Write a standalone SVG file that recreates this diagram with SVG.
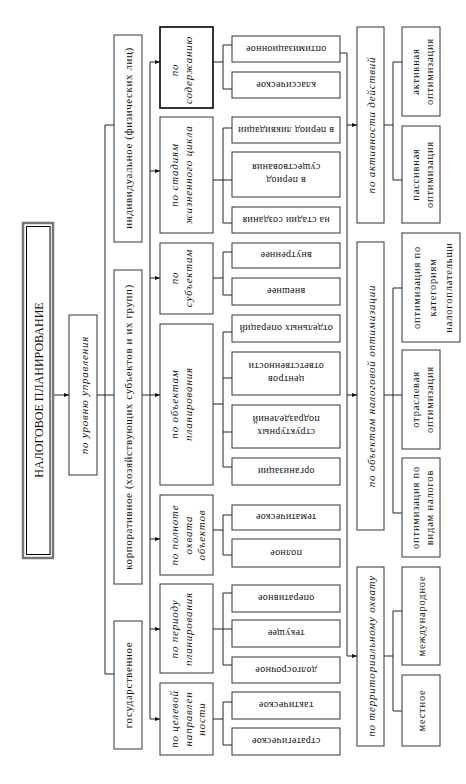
<svg xmlns="http://www.w3.org/2000/svg" width="466" height="784" viewBox="0 0 466 784">
<style>
.b{fill:#fff;stroke:#333;stroke-width:1}
.bb{fill:#fff;stroke:#000;stroke-width:1.6}
.c{fill:none;stroke:#222;stroke-width:1}
text{font-family:"Liberation Serif","DejaVu Serif",serif;fill:#111;text-anchor:middle;dominant-baseline:central}
.t0{font-size:12px}
.t1{font-size:11px;letter-spacing:0.6px}
.ti{font-size:11px;font-style:italic;letter-spacing:0.8px}
.tl{font-size:10px;letter-spacing:0.3px}
.t5{font-size:10.5px;letter-spacing:0.8px}
</style>
<defs>
<marker id="ar" markerWidth="5" markerHeight="4" refX="5" refY="2" orient="auto" markerUnits="userSpaceOnUse"><path d="M0,0 L5,2 L0,4 z" fill="#111"/></marker>
</defs>
<rect width="466" height="784" fill="#fff"/>
<g id="connectors">
<path class="c" d="M53,395 H69" marker-end="url(#ar)"/>
<path class="c" d="M97,395 H114 M105,125 V674 M105,125 H114 M105,674 H114"/>
<path class="c" d="M142,395 H150 M150,62 V719"/>
<path class="c" d="M150,62 H160" marker-end="url(#ar)"/>
<path class="c" d="M150,171 H160" marker-end="url(#ar)"/>
<path class="c" d="M150,278 H160" marker-end="url(#ar)"/>
<path class="c" d="M150,395 H160" marker-end="url(#ar)"/>
<path class="c" d="M150,539 H160" marker-end="url(#ar)"/>
<path class="c" d="M150,629 H160" marker-end="url(#ar)"/>
<path class="c" d="M150,719 H160" marker-end="url(#ar)"/>
<path class="c" d="M213,62 H223 M223,45 V89 M223,45 H232 M223,89 H232"/>
<path class="c" d="M213,180 H232 M223,128 V223 M223,128 H232 M223,223 H232"/>
<path class="c" d="M213,278 H223 M223,252 V295 M223,252 H232 M223,295 H232"/>
<path class="c" d="M213,404 H223 M223,332 V467 M223,332 H232 M223,378 H232 M223,432 H232 M223,467 H232"/>
<path class="c" d="M213,530 H223 M223,515 V555 M223,515 H232 M223,555 H232"/>
<path class="c" d="M213,629 H232 M223,593 V665 M223,593 H232 M223,665 H232"/>
<path class="c" d="M213,719 H223 M223,702 V745 M223,702 H232 M223,745 H232"/>
<path class="c" d="M340,53 H347 V656"/>
<path class="c" d="M347,125 H357" marker-end="url(#ar)"/>
<path class="c" d="M347,395 H357" marker-end="url(#ar)"/>
<path class="c" d="M347,656 H357" marker-end="url(#ar)"/>
<path class="c" d="M384,125 H393 M393,62 V180 M393,62 H402 M393,180 H402"/>
<path class="c" d="M384,395 H402 M393,288 V513 M393,288 H402 M393,513 H402"/>
<path class="c" d="M384,656 H393 M393,611 V711 M393,611 H402 M393,711 H402"/>
</g>
<g id="title">
<rect x="23" y="223" width="30" height="335" fill="#fff" stroke="#777" stroke-width="2.5"/>
<rect x="26.5" y="226.5" width="23.5" height="328" fill="none" stroke="#000" stroke-width="1"/>
<text class="t0" transform="translate(39,390) rotate(-90)">НАЛОГОВОЕ ПЛАНИРОВАНИЕ</text>
</g>
<g id="level">
<rect class="b" x="69" y="315" width="28" height="160"/>
<text class="ti" transform="translate(83.5,395) rotate(-90)">по уровню управления</text>
</g>
<g id="individual">
<rect class="b" x="114" y="35" width="28" height="207"/>
<text class="t1" transform="translate(128,138) rotate(-90)">индивидуальное (физических лиц)</text>
</g>
<g id="corporate">
<rect class="b" x="114" y="270" width="28" height="314"/>
<text class="t1" transform="translate(128,427) rotate(-90)">корпоративное (хозяйствующих субъектов и их групп)</text>
</g>
<g id="state">
<rect class="b" x="114" y="621" width="28" height="128"/>
<text class="t1" transform="translate(128,685) rotate(-90)">государственное</text>
</g>
<g id="cat-content">
<rect class="bb" x="160" y="27" width="53" height="81"/>
<text class="ti" transform="translate(174,70) rotate(-90)"><tspan x="0" y="0">по</tspan><tspan x="0" y="14">содержанию</tspan></text>
</g>
<g id="cat-stages">
<rect class="b" x="160" y="117" width="53" height="116"/>
<text class="ti" transform="translate(174,175) rotate(-90)"><tspan x="0" y="0">по стадиям</tspan><tspan x="0" y="14">жизненного цикла</tspan></text>
</g>
<g id="cat-subjects">
<rect class="b" x="160" y="243" width="53" height="71"/>
<text class="ti" transform="translate(174,278) rotate(-90)"><tspan x="0" y="0">по</tspan><tspan x="0" y="14">субъектам</tspan></text>
</g>
<g id="cat-objects">
<rect class="b" x="160" y="324" width="53" height="161"/>
<text class="ti" transform="translate(174,404) rotate(-90)"><tspan x="0" y="0">по объектам</tspan><tspan x="0" y="14">планирования</tspan></text>
</g>
<g id="cat-coverage">
<rect class="b" x="160" y="495" width="53" height="80"/>
<text class="ti" transform="translate(174,535) rotate(-90)"><tspan x="0" y="0">по полноте</tspan><tspan x="0" y="13.5">охвата</tspan><tspan x="0" y="27">объектов</tspan></text>
</g>
<g id="cat-period">
<rect class="b" x="160" y="584" width="53" height="89"/>
<text class="ti" transform="translate(174,629) rotate(-90)"><tspan x="0" y="0">по периоду</tspan><tspan x="0" y="14">планирования</tspan></text>
</g>
<g id="cat-target">
<rect class="b" x="160" y="683" width="53" height="72"/>
<text class="ti" transform="translate(174,719) rotate(-90)"><tspan x="0" y="0">по целевой</tspan><tspan x="0" y="13.5">направлен</tspan><tspan x="0" y="27">ности</tspan></text>
</g>
<g id="leaf-optim">
<rect class="b" x="232" y="36" width="108" height="26"/>
<text class="tl" transform="translate(286,49) rotate(180)">оптимизационное</text>
</g>
<g id="leaf-classic">
<rect class="b" x="232" y="72" width="108" height="26"/>
<text class="tl" transform="translate(286,85) rotate(180)">классическое</text>
</g>
<g id="leaf-liquid">
<rect class="b" x="232" y="117" width="108" height="26"/>
<text class="tl" transform="translate(286,130) rotate(180)">в период ликвидации</text>
</g>
<g id="leaf-exist">
<rect class="b" x="232" y="152" width="108" height="45"/>
<text class="tl" transform="translate(286,174.5) rotate(180)"><tspan x="0" y="-6.5">в период</tspan><tspan x="0" y="6.5">существования</tspan></text>
</g>
<g id="leaf-create">
<rect class="b" x="232" y="207" width="108" height="26"/>
<text class="tl" transform="translate(286,220) rotate(180)">на стадии создания</text>
</g>
<g id="leaf-internal">
<rect class="b" x="232" y="243" width="108" height="25"/>
<text class="tl" transform="translate(286,255.5) rotate(180)">внутреннее</text>
</g>
<g id="leaf-external">
<rect class="b" x="232" y="278" width="108" height="27"/>
<text class="tl" transform="translate(286,291.5) rotate(180)">внешнее</text>
</g>
<g id="leaf-operations">
<rect class="b" x="232" y="315" width="108" height="27"/>
<text class="tl" transform="translate(286,328.5) rotate(180)">отдельных операций</text>
</g>
<g id="leaf-centers">
<rect class="b" x="232" y="352" width="108" height="43"/>
<text class="tl" transform="translate(286,373.5) rotate(180)"><tspan x="0" y="-6.5">центров</tspan><tspan x="0" y="6.5">ответственности</tspan></text>
</g>
<g id="leaf-units">
<rect class="b" x="232" y="405" width="108" height="43"/>
<text class="tl" transform="translate(286,426.5) rotate(180)"><tspan x="0" y="-6.5">структурных</tspan><tspan x="0" y="6.5">подразделений</tspan></text>
</g>
<g id="leaf-org">
<rect class="b" x="232" y="458" width="108" height="27"/>
<text class="tl" transform="translate(286,471.5) rotate(180)">организации</text>
</g>
<g id="leaf-thematic">
<rect class="b" x="232" y="505" width="108" height="25"/>
<text class="tl" transform="translate(286,517.5) rotate(180)">тематическое</text>
</g>
<g id="leaf-full">
<rect class="b" x="232" y="539" width="108" height="28"/>
<text class="tl" transform="translate(286,553) rotate(180)">полное</text>
</g>
<g id="leaf-operative">
<rect class="b" x="232" y="585" width="108" height="27"/>
<text class="tl" transform="translate(286,598.5) rotate(180)">оперативное</text>
</g>
<g id="leaf-current">
<rect class="b" x="232" y="620" width="108" height="27"/>
<text class="tl" transform="translate(286,633.5) rotate(180)">текущее</text>
</g>
<g id="leaf-longterm">
<rect class="b" x="232" y="657" width="108" height="26"/>
<text class="tl" transform="translate(286,670) rotate(180)">долгосрочное</text>
</g>
<g id="leaf-tactical">
<rect class="b" x="232" y="692" width="108" height="27"/>
<text class="tl" transform="translate(286,705.5) rotate(180)">тактическое</text>
</g>
<g id="leaf-strategic">
<rect class="b" x="232" y="728" width="108" height="27" stroke="#000"/>
<text class="tl" transform="translate(286,741.5) rotate(180)">стратегическое</text>
</g>
<g id="opt-activity">
<rect class="b" x="357" y="27" width="27" height="196"/>
<text class="ti" transform="translate(371,125) rotate(-90)">по активности действий</text>
</g>
<g id="opt-objects">
<rect class="b" x="357" y="242" width="27" height="288"/>
<text class="ti" transform="translate(371,386) rotate(-90)">по объектам налоговой оптимизации</text>
</g>
<g id="opt-territory">
<rect class="b" x="357" y="567" width="27" height="179"/>
<text class="ti" transform="translate(371,656) rotate(-90)">по территориальному охвату</text>
</g>
<g id="active">
<rect class="b" x="402" y="27" width="38" height="89"/>
<text class="t5" transform="translate(415,71.5) rotate(-90)"><tspan x="0" y="0">активная</tspan><tspan x="0" y="14">оптимизация</tspan></text>
</g>
<g id="passive">
<rect class="b" x="402" y="126" width="38" height="97"/>
<text class="t5" transform="translate(415,174.5) rotate(-90)"><tspan x="0" y="0">пассивная</tspan><tspan x="0" y="14">оптимизация</tspan></text>
</g>
<g id="by-category">
<rect class="b" x="402" y="233" width="58" height="109"/>
<text class="t5" transform="translate(416,287.5) rotate(-90)"><tspan x="0" y="0">оптимизация по</tspan><tspan x="0" y="16">категориям</tspan><tspan x="0" y="32">налогоплательщи</tspan></text>
</g>
<g id="by-industry">
<rect class="b" x="402" y="350" width="38" height="99"/>
<text class="t5" transform="translate(415,399.5) rotate(-90)"><tspan x="0" y="0">отраслевая</tspan><tspan x="0" y="14">оптимизация</tspan></text>
</g>
<g id="by-tax">
<rect class="b" x="402" y="458" width="38" height="99"/>
<text class="t5" transform="translate(415,507.5) rotate(-90)"><tspan x="0" y="0">оптимизация по</tspan><tspan x="0" y="14">видам налогов</tspan></text>
</g>
<g id="international">
<rect class="b" x="402" y="567" width="38" height="98"/>
<text class="t5" transform="translate(421,616) rotate(-90)">международное</text>
</g>
<g id="local">
<rect class="b" x="402" y="675" width="38" height="71"/>
<text class="t5" transform="translate(421,710.5) rotate(-90)">местное</text>
</g>
</svg>
